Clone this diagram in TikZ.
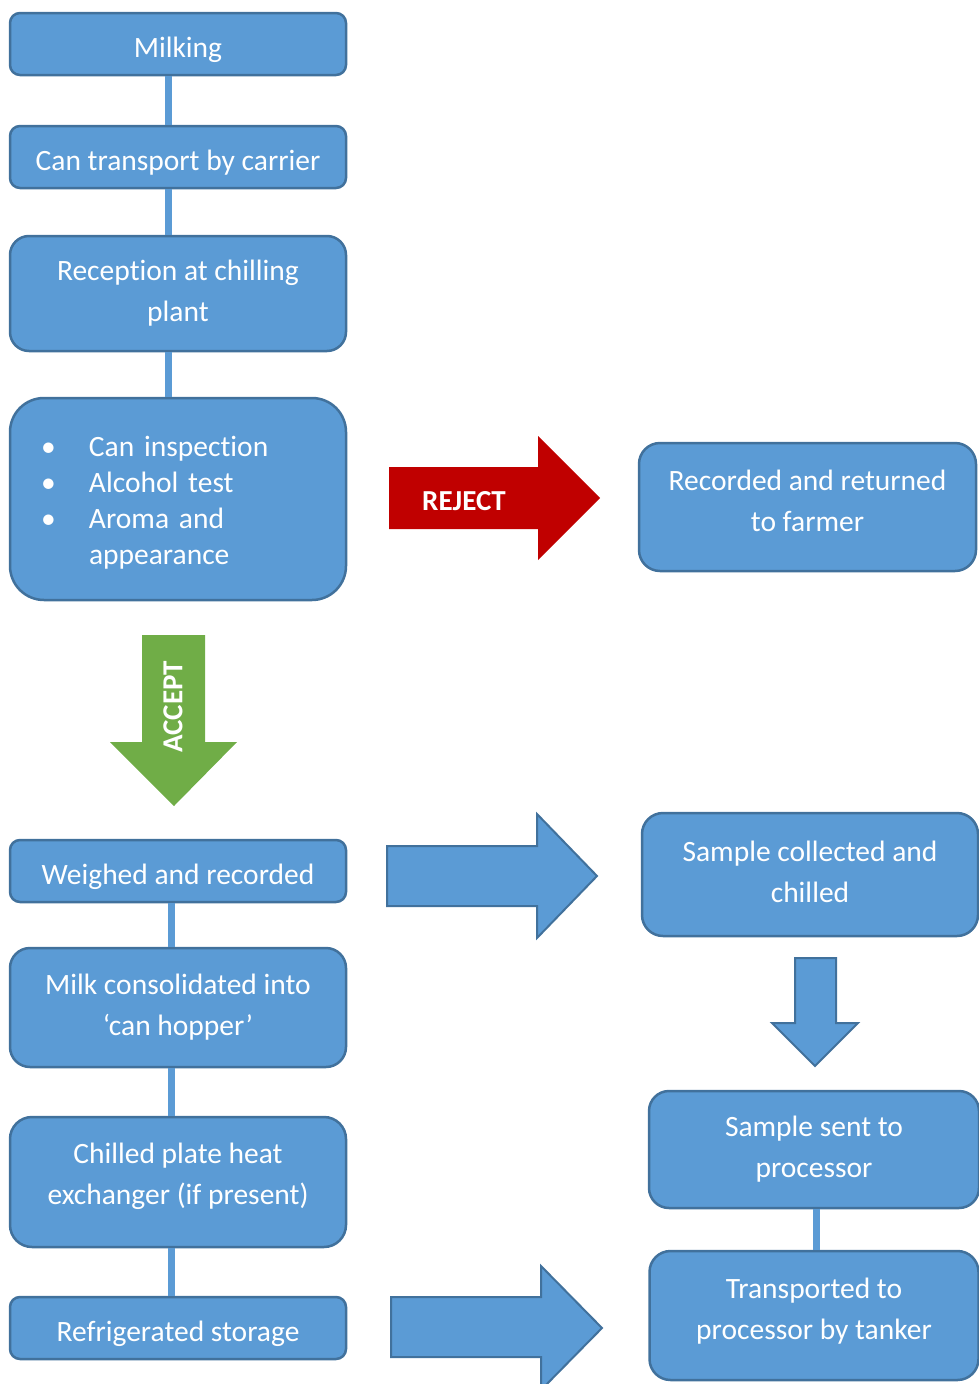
\documentclass[tikz,border=0pt]{standalone}
\usepackage{fontspec}
\setmainfont{Carlito}[Ligatures=NoCommon]
\usetikzlibrary{positioning}

\definecolor{boxfill}{HTML}{5B9BD5}
\definecolor{boxline}{HTML}{41719C}
\definecolor{rejectred}{HTML}{C00000}
\definecolor{acceptgreen}{HTML}{70AD47}

\newcommand{\lastdepth}[1]{\rule[-#1]{0pt}{0pt}}

\tikzset{
  stage/.style={draw=boxline, line width=2.5pt, fill=boxfill, text=white,
    align=center, inner sep=0pt, minimum width=336pt, minimum height=62pt,
    rounded corners=10pt, font=\fontsize{29.5}{41}\selectfont},
  oneline/.style={text height=32pt, text depth=6pt},
  link/.style={draw=boxfill, line width=7pt},
  blockarrow/.style={fill=boxfill, draw=boxline, line width=2pt},
  arrowtext/.style={text=white, inner sep=0pt, font=\bfseries\fontsize{29}{35}\selectfont}
}

\begin{document}
\begin{tikzpicture}[x=1pt,y=-1pt]
\useasboundingbox (0,0) rectangle (978,1384);

% left column
\node[stage, oneline] (milking) at (178,44) {Milking};
\node[stage, oneline] (transport) at (178,157) {Can transport by carrier};
\node[stage, minimum height=115pt, rounded corners=19pt] (reception) at (178,293.5) {Reception at chilling\\plant};
\node[stage, minimum height=202pt, rounded corners=34pt, text width=274pt,
  inner xsep=31pt, align=left] (inspect) at (178,499)
  {\fontsize{29.5}{36}\selectfont\begin{tabular}{@{}p{48pt}@{}l@{}}
   \textbullet & Can inspection\rule{0pt}{33pt}\\
   \textbullet & Alcohol test\\
   \textbullet & Aroma and\\
               & appearance
   \end{tabular}};
\node[stage, oneline] (weigh) at (178,871) {Weighed and recorded};
\node[stage, minimum height=119pt, rounded corners=20pt] (hopper) at (178,1007.5) {Milk consolidated into\\‘can hopper’};
\node[stage, minimum height=130pt, rounded corners=22pt] (plate) at (178,1182) {Chilled plate heat\\exchanger (if present)\lastdepth{17pt}};
\node[stage, oneline] (storage) at (178,1328) {Refrigerated storage};

% right column
\node[stage, minimum width=337pt, minimum height=128pt, rounded corners=21pt] (returned) at (807.5,507) {Recorded and returned\\to farmer\lastdepth{12pt}};
\node[stage, minimum width=336pt, minimum height=123pt, rounded corners=21pt] (sample) at (810,874.5) {Sample collected and\\chilled\lastdepth{6pt}};
\node[stage, minimum width=330pt, minimum height=117pt, rounded corners=20pt] (sent) at (814,1149.5) {Sample sent to\\processor};
\node[stage, minimum width=329pt, minimum height=129pt, rounded corners=21pt] (tanker) at (814,1315.5) {Transported to\\processor by tanker\lastdepth{14pt}};

% connecting bars
\draw[link] ([xshift=-9.5pt]milking.south) -- ([xshift=-9.5pt]transport.north);
\draw[link] ([xshift=-9.5pt]transport.south) -- ([xshift=-9.5pt]reception.north);
\draw[link] ([xshift=-9.5pt]reception.south) -- ([xshift=-9.5pt]inspect.north);
\draw[link] ([xshift=-7pt]weigh.south) -- ([xshift=-7pt]hopper.north);
\draw[link] ([xshift=-7pt]hopper.south) -- ([xshift=-7pt]plate.north);
\draw[link] ([xshift=-7pt]plate.south) -- ([xshift=-7pt]storage.north);
\draw[link] ([xshift=2pt]sent.south) -- ([xshift=2pt]tanker.north);

% block arrows
\fill[rejectred] (389,467) -- (538,467) -- (538,436) -- (600,498) -- (538,560) -- (538,529) -- (389,529) -- cycle;
\node[arrowtext] (rejectlbl) at (464,501) {REJECT};
\fill[acceptgreen] (142,635) -- (205,635) -- (205,742) -- (237,742) -- (174,806) -- (110,742) -- (142,742) -- cycle;
\node[arrowtext, rotate=90] (acceptlbl) at (173,707) {ACCEPT};
\filldraw[blockarrow] (387,846) -- (537,846) -- (537,814) -- (597,876) -- (537,938) -- (537,906) -- (387,906) -- cycle;
\filldraw[blockarrow] (795,958) -- (836,958) -- (836,1023) -- (858,1023) -- (815,1066) -- (772,1023) -- (795,1023) -- cycle;
\filldraw[blockarrow] (391,1297) -- (541,1297) -- (541,1266) -- (602,1328) -- (541,1390) -- (541,1357) -- (391,1357) -- cycle;
\end{tikzpicture}
\end{document}
